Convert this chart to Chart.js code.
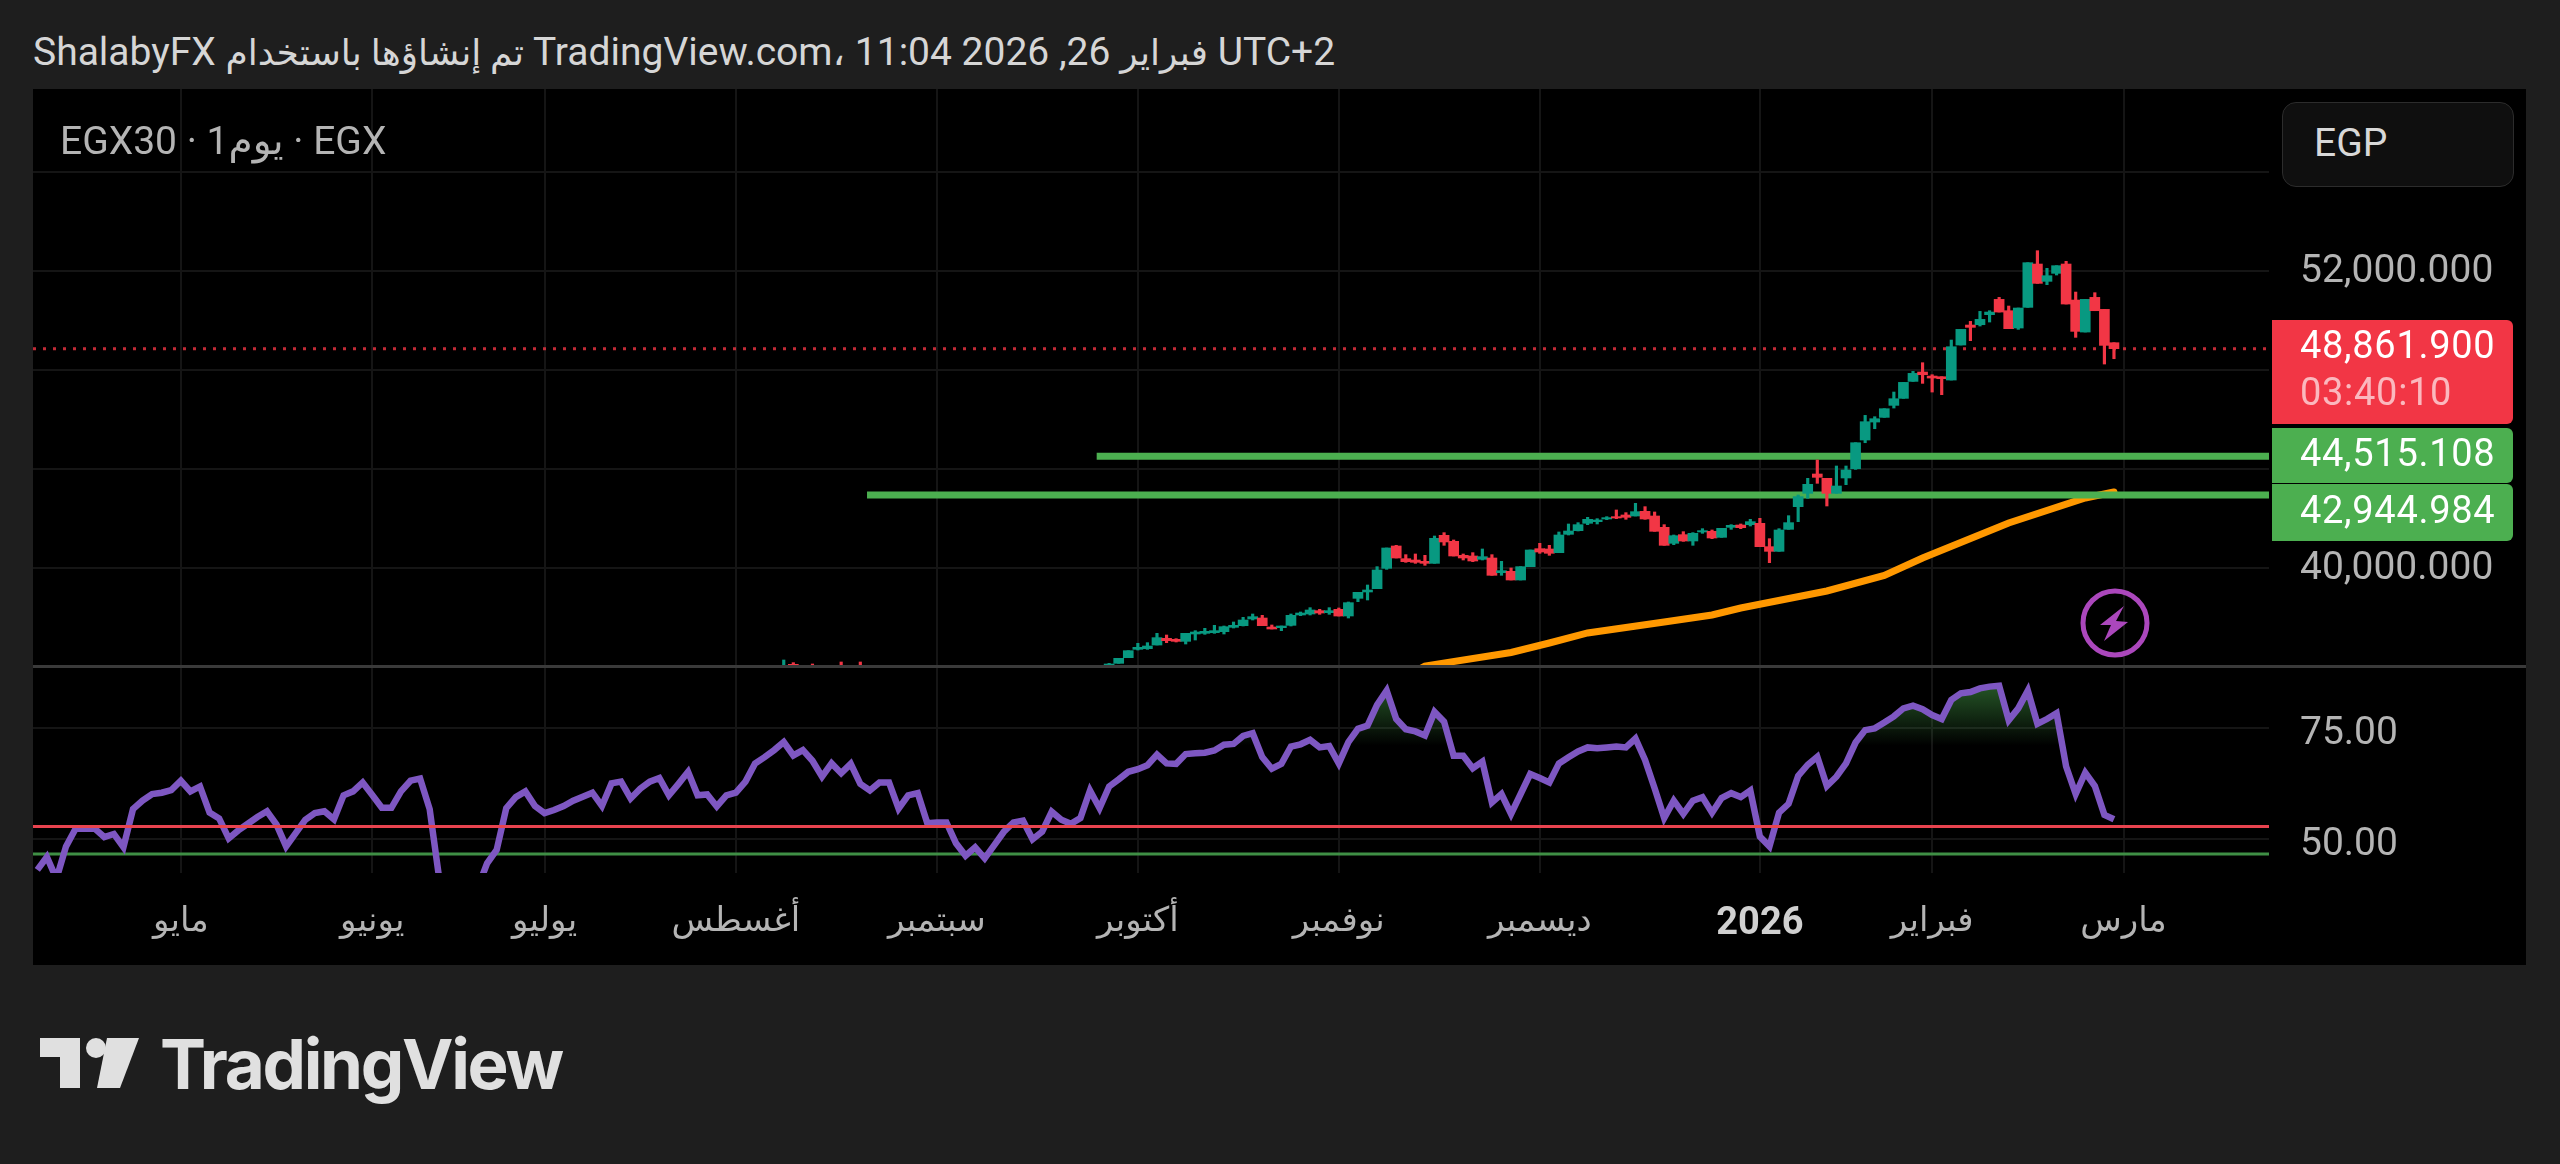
<!DOCTYPE html>
<html lang="ar">
<head>
<meta charset="utf-8">
<title>EGX30</title>
<script src="https://cdn.jsdelivr.net/npm/chart.js@4"></script>
<style>
    html, body { margin: 0; padding: 0; background: #1e1e1e; width: 2560px; height: 1164px; overflow: hidden; }
    body { position: relative; font-family: Roboto, "Noto Sans", "DejaVu Sans", sans-serif; }
    .abs { position: absolute; white-space: nowrap; }
    .piece { display: inline-block; unicode-bidi: isolate; white-space: pre; }
    .ar { font-size: 36px; }
    #frame { left: 33px; top: 89px; width: 2493px; height: 876px; background: #000; }
    #sep { left: 33px; top: 665px; width: 2493px; height: 3px; background: #3a3a3a; }
    canvas { position: absolute; left: 33px; }
    #header { left: 33px; top: 29px; font-size: 39px; line-height: 46px; color: #d6d6d6; }
    #legend { left: 60px; top: 118px; font-size: 39px; line-height: 46px; color: #b4b4b4; }
    #currency { left: 2282px; top: 102px; width: 230px; height: 83px; box-sizing: content-box; background: #0f0f0f;
                border: 1px solid #2c2c2c; border-radius: 14px; color: #d8d8d8; font-size: 39px; line-height: 80px; text-indent: 31px; }
    .tag { left: 2272px; width: 241px; color: #fff; font-size: 38px; line-height: 46px; letter-spacing: 0.7px; text-indent: 28px; border-radius: 0 6px 6px 0; }
    #logoText { left: 160px; top: 1019px; font-family: Inter, sans-serif; font-weight: 700; font-size: 69px; line-height: 90px; letter-spacing: -2.3px; color: #e0e0e0; }
</style>
</head>
<body>
<div class="abs" id="frame"></div>
<canvas id="priceChart" width="2493" height="577" style="top:89px;width:2493px;height:577px"></canvas>
<canvas id="rsiChart" width="2493" height="297" style="top:668px;width:2493px;height:297px"></canvas>
<div class="abs" id="sep"></div>

<div class="abs" id="header"><span class="piece">ShalabyFX </span><span class="piece ar" dir="rtl">تم إنشاؤها باستخدام</span><span class="piece"> TradingView.com، 11:04 2026 ,26 </span><span class="piece ar" dir="rtl">فبراير</span><span class="piece"> UTC+2</span></div>
<div class="abs" id="legend"><span class="piece">EGX30 · 1</span><span class="piece" dir="rtl">يوم</span><span class="piece"> · EGX</span></div>
<div class="abs" id="currency">EGP</div>
<div id="tags"></div>

<svg class="abs" style="left:0;top:0" width="2560" height="1164" pointer-events="none">
    <circle cx="2115" cy="623" r="32" fill="none" stroke="#ab47bc" stroke-width="5"/>
    <polygon points="2124,606 2100,625 2111,625 2104,641 2128,622 2116,621" fill="#ab47bc"/>
    <polygon points="40,1038 80,1038 80,1088 60,1088 60,1057 40,1057" fill="#e0e0e0"/>
    <circle cx="96" cy="1048" r="10" fill="#e0e0e0"/>
    <polygon points="107,1038 139,1038 120,1088 97,1088" fill="#e0e0e0"/>
</svg>
<div class="abs" id="logoText">TradingView</div>

<script>
// Time axis: one unit per daily bar
const monthBars = [15, 35, 53, 73, 94, 115, 136, 157, 180, 198, 218];
const monthLabels = ['مايو', 'يونيو', 'يوليو', 'أغسطس', 'سبتمبر', 'أكتوبر', 'نوفمبر', 'ديسمبر', '2026', 'فبراير', 'مارس'];
const boldMonth = '2026';

// Price pane ticks and levels
const priceGrid = [40000, 44000, 48000, 52000, 56000];
const priceLabelled = [40000, 52000];
const lastPrice = 48861.9;
const countdown = '03:40:10';
const upperLevel = 44515.108;
const lowerLevel = 42944.984;
const upperLevelStart = 110.7;
const lowerLevelStart = 86.7;

// Candles
const candleBars = [78, 79, 81, 84, 86,
    112, 113, 114, 115, 116, 117, 118, 119, 120, 121, 122, 123, 124, 125, 126, 127, 128, 129, 130, 131, 132, 133, 134, 135, 136, 137,
    138, 139, 140, 141, 142, 143, 144, 145, 146, 147, 148, 149, 150, 151, 152, 153, 154, 155, 156, 157, 158, 159, 160, 161, 162, 163,
    164, 165, 166, 167, 168, 169, 170, 171, 172, 173, 174, 175, 176, 177, 178, 179, 180, 181, 182, 183, 184, 185, 186, 187, 188, 189,
    190, 191, 192, 193, 194, 195, 196, 197, 198, 199, 200, 201, 202, 203, 204, 205, 206, 207, 208, 209, 210, 211, 212, 213, 214, 215, 216, 217];
const opens = [35900, 36108, 36000, 35950, 35960,
    36067, 36147, 36376, 36713, 36740, 36888, 37158, 37117, 37036, 37333, 37360, 37387, 37427, 37602, 37670, 37939, 37979, 37616, 37589, 37683, 38101, 38141, 38276, 38195, 38330, 38060,
    38774, 39030, 39165, 39986, 40889, 40377, 40323, 40269, 40188, 41320, 41078, 40512, 40485, 40350, 40404, 39811, 39865, 39515, 40054, 40781, 40768, 40620, 41360, 41509, 41805, 41872,
    41980, 42074, 42142, 42101, 42290, 42101, 41643, 40997, 41347, 41091, 41455, 41482, 41239, 41643, 41737, 41751, 41805, 40862, 40673, 41562, 42478, 43017, 43798, 43623, 43017, 43637,
    44011, 45170, 45897, 46086, 46571, 46854, 47540, 47918, 47756, 47729, 47594, 49009, 49817, 49830, 50235, 50854, 50396, 49696, 50531, 52282, 51582, 51905, 52282, 50827, 49534, 50935, 50450, 49103];
const highs = [36283, 36175, 36121, 36202, 36202,
    36148, 36350, 36659, 36956, 36983, 37360, 37292, 37144, 37360, 37468, 37562, 37683, 37656, 37818, 38006, 38141, 38087, 37697, 37656, 38141, 38222, 38397, 38330, 38397, 38384, 38626,
    39017, 39313, 40054, 40808, 40916, 40539, 40566, 40512, 41293, 41428, 41132, 40566, 40620, 40768, 40539, 40269, 40000, 40054, 40727, 40997, 40916, 41455, 41778, 41832, 42047, 41993,
    42074, 42344, 42236, 42613, 42478, 42263, 41751, 41333, 41468, 41428, 41589, 41536, 41603, 41751, 41778, 41966, 42007, 41185, 41589, 42114, 42950, 43623, 44364, 43623, 44121, 44121,
    45062, 46167, 46113, 46436, 47110, 47500, 47945, 48295, 47810, 47729, 49211, 49642, 49965, 50369, 50396, 50935, 50585, 50504, 52336, 52821, 52107, 52215, 52390, 51150, 50854, 51124, 50450, 49103];
const lows = [35800, 35900, 35800, 35780, 35800,
    36067, 36147, 36376, 36686, 36713, 36888, 36983, 37010, 36929, 37090, 37320, 37360, 37333, 37575, 37656, 37899, 37670, 37535, 37468, 37656, 38074, 38101, 38128, 38128, 38060, 37979,
    38640, 38707, 39165, 39946, 40404, 40229, 40188, 40108, 40188, 40916, 40485, 40323, 40256, 40323, 39704, 39704, 39515, 39515, 40054, 40593, 40512, 40620, 41333, 41495, 41751, 41778,
    41953, 41993, 41967, 42101, 41967, 41482, 40916, 40943, 41077, 40916, 41401, 41185, 41239, 41562, 41589, 41697, 40862, 40215, 40673, 41562, 41872, 42815, 43421, 42505, 43017, 43367,
    43984, 45062, 45628, 46086, 46463, 46854, 47540, 47460, 47109, 47002, 47594, 49009, 49184, 49777, 49938, 50342, 49669, 49642, 50531, 51501, 51447, 51838, 50666, 49319, 49534, 50396, 48241, 48456];
const closes = [36000, 35980, 35900, 35850, 35870,
    36121, 36350, 36659, 36794, 36848, 37185, 37063, 37036, 37360, 37414, 37441, 37468, 37629, 37683, 37899, 38033, 37670, 37535, 37656, 38087, 38181, 38303, 38181, 38276, 38060, 38599,
    39017, 39111, 39919, 40808, 40404, 40256, 40229, 40188, 41199, 41051, 40485, 40404, 40283, 40458, 39704, 39892, 39515, 40054, 40727, 40646, 40593, 41333, 41495, 41751, 41967, 41940,
    42034, 42020, 42047, 42276, 41980, 41482, 40916, 41306, 41091, 41401, 41509, 41212, 41603, 41724, 41630, 41872, 40862, 40673, 41535, 41832, 42882, 43381, 43663, 43017, 43313, 43960,
    45062, 45911, 46032, 46436, 46840, 47500, 47864, 47810, 47675, 47648, 48941, 49642, 49723, 50046, 50342, 50342, 49669, 50504, 52336, 51501, 51810, 52215, 50666, 49561, 50854, 50396, 48995, 48861.9];

// Orange moving average, at the bars where its bends could be read
const emaBars = [143, 145, 154, 158, 162, 170, 175, 178, 187, 193, 197, 206, 214, 217];
const emaValues = [35600, 36040, 36586, 36970, 37374, 37818, 38101, 38384, 39071, 39697, 40404, 41818, 42828, 43070];

// RSI, one value per bar from the left edge
const rsiValues = [
    43.0, 45.9, 41.0, 48.3, 52.3, 52.3, 52.3, 50.4, 51.1, 48.1, 56.7, 58.6, 60.1, 60.4, 61.0, 63.1, 60.7, 61.8, 55.9, 54.6,
    50.1, 51.9, 53.4, 54.9, 56.2, 53.2, 48.3, 51.3, 54.3, 55.8, 56.2, 54.4, 59.8, 60.7, 62.7, 59.9, 57.0, 57.0, 60.7, 63.1,
    63.6, 56.7, 41.0, 38.0, 36.5, 37.0, 38.8, 44.5, 47.5, 56.9, 59.4, 60.7, 57.4, 55.8, 56.5, 57.4, 58.6, 59.5, 60.4, 57.4,
    62.5, 62.9, 59.1, 61.3, 62.9, 63.7, 59.8, 62.4, 65.1, 59.8, 60.0, 57.3, 59.8, 60.4, 62.9, 67.0, 68.4, 70.0, 71.8, 68.8,
    70.0, 67.6, 64.0, 67.0, 64.8, 66.9, 62.4, 60.9, 62.7, 62.7, 56.8, 59.8, 60.3, 53.5, 53.7, 53.7, 49.0, 46.2, 48.1, 45.6,
    48.6, 51.6, 53.7, 54.1, 49.9, 51.6, 56.1, 54.3, 53.4, 54.7, 60.9, 56.9, 61.8, 63.4, 65.1, 65.7, 66.6, 69.0, 67.0, 66.9,
    69.1, 69.3, 69.4, 69.9, 71.2, 71.4, 73.2, 73.8, 68.4, 65.8, 66.9, 70.8, 71.3, 72.3, 70.6, 70.9, 67.0, 71.8, 74.8, 75.5,
    80.2, 83.4, 77.0, 74.7, 74.2, 73.3, 78.6, 76.4, 68.7, 68.7, 65.9, 67.4, 58.2, 60.1, 55.6, 60.1, 64.6, 63.7, 62.7, 67.0,
    68.4, 69.7, 70.6, 70.4, 70.6, 70.8, 70.6, 72.6, 67.8, 61.4, 54.7, 58.6, 55.6, 58.6, 59.4, 55.9, 59.2, 60.3, 59.4, 60.9,
    50.5, 48.3, 55.9, 57.9, 64.2, 66.7, 68.5, 61.9, 64.0, 67.0, 71.7, 74.5, 74.9, 76.2, 77.6, 79.4, 80.0, 79.2, 77.9, 77.0,
    81.3, 82.8, 83.1, 83.9, 84.3, 84.5, 76.7, 79.4, 83.4, 75.9, 77.0, 78.3, 66.3, 60.1, 64.9, 61.9, 55.4, 54.4
];
const rsiGrid = [50, 75];
const rsiUpper = 52.8;
const rsiLower = 46.6;
const rsiFillBase = 70;

// Visible ranges of the panes
const xMin = -0.45, xMax = 233.2;
const priceMin = 36040, priceMax = 59354;
const rsiMin = 42.3, rsiMax = 88.5;

const upColor = '#089981';
const downColor = '#f23645';
const levelColor = '#4caf50';
const gridColor = '#151515';
const labelColor = '#b4b4b4';
const fontFamily = 'Roboto, "Noto Sans", "DejaVu Sans", sans-serif';

const priceFormat = v => v.toLocaleString('en-US', { minimumFractionDigits: 3, maximumFractionDigits: 3 });

// Shared x axis, month lines come from monthBars
function timeAxis(showLabels) {
    return {
        type: 'linear',
        min: xMin,
        max: xMax,
        offset: false,
        border: { display: false },
        grid: { color: gridColor, lineWidth: 2, offset: false, drawTicks: false },
        afterBuildTicks: axis => { axis.ticks = monthBars.map(v => ({ value: v })); },
        afterFit: axis => {
            axis.height = showLabels ? 92 : 0;
            axis.paddingLeft = 0;
            axis.paddingRight = 0;
        },
        ticks: {
            display: showLabels,
            autoSkip: false,
            maxRotation: 0,
            padding: 29,
            color: ctx => monthLabels[ctx.index] === boldMonth ? '#d0d0d0' : labelColor,
            font: ctx => ({ family: fontFamily, size: monthLabels[ctx.index] === boldMonth ? 38 : 34, weight: monthLabels[ctx.index] === boldMonth ? 'bold' : 'normal' }),
            callback: (v, i) => monthLabels[i]
        }
    };
}

function valueAxis(min, max, values, labelOffset, callback) {
    return {
        type: 'linear',
        position: 'right',
        min: min,
        max: max,
        border: { display: false },
        grid: { color: gridColor, lineWidth: 2, drawTicks: false },
        afterBuildTicks: axis => { axis.ticks = values.map(v => ({ value: v })); },
        afterFit: axis => {
            axis.width = 257;
            axis.paddingTop = 0;
            axis.paddingBottom = 0;
        },
        ticks: {
            color: labelColor,
            padding: 31,
            labelOffset: labelOffset,
            font: { family: fontFamily, size: 39 },
            callback: callback
        }
    };
}

function levelLine(value, start, color, width, order, dash) {
    return {
        type: 'line',
        data: [{ x: start, y: value }, { x: xMax, y: value }],
        borderColor: color,
        borderWidth: width,
        borderDash: dash || [],
        pointRadius: 0,
        order: order
    };
}

const commonOptions = {
    responsive: false,
    animation: false,
    events: [],
    layout: { padding: 0 },
    plugins: { legend: { display: false }, tooltip: { enabled: false } }
};

// Wykres cen
const candleColors = candleBars.map((b, i) => closes[i] >= opens[i] ? upColor : downColor);
new Chart(document.getElementById('priceChart'), {
    type: 'bar',
    data: {
        datasets: [
            {
                data: candleBars.map((b, i) => ({ x: b, y: [opens[i], closes[i]] })),
                backgroundColor: candleColors,
                barThickness: 10,
                grouped: false,
                order: 0
            },
            {
                data: candleBars.map((b, i) => ({ x: b, y: [lows[i], highs[i]] })),
                backgroundColor: candleColors,
                barThickness: 2.5,
                grouped: false,
                order: 1
            },
            levelLine(upperLevel, upperLevelStart, levelColor, 7, 2),
            levelLine(lowerLevel, lowerLevelStart, levelColor, 7, 2),
            {
                type: 'line',
                data: emaBars.map((b, i) => ({ x: b, y: emaValues[i] })),
                borderColor: '#ff9800',
                borderWidth: 7,
                borderCapStyle: 'round',
                pointRadius: 0,
                tension: 0,
                order: 3
            },
            levelLine(lastPrice, xMin, 'rgba(242,54,69,0.8)', 3, 4, [3, 7])
        ]
    },
    options: {
        ...commonOptions,
        scales: {
            x: timeAxis(false),
            y: valueAxis(priceMin, priceMax, priceGrid, 1, v => priceLabelled.includes(v) ? priceFormat(v) : '')
        }
    }
});

// Wykres RSI
const rsiCanvas = document.getElementById('rsiChart');
const rsiPaneHeight = 205;
const rsiPixel = v => (rsiMax - v) / (rsiMax - rsiMin) * rsiPaneHeight;
const rsiGradient = rsiCanvas.getContext('2d').createLinearGradient(0, rsiPixel(85), 0, rsiPixel(rsiFillBase + 1));
rsiGradient.addColorStop(0, 'rgba(76,175,80,0.5)');
rsiGradient.addColorStop(1, 'rgba(76,175,80,0)');

new Chart(rsiCanvas, {
    type: 'line',
    data: {
        datasets: [
            levelLine(rsiUpper, xMin, '#e8434f', 3, 0),
            {
                data: rsiValues.map((v, i) => ({ x: i, y: v })),
                borderColor: '#7e57c2',
                borderWidth: 6.5,
                pointRadius: 0,
                tension: 0,
                clip: 0,
                fill: { target: { value: rsiFillBase }, above: rsiGradient, below: 'rgba(0,0,0,0)' },
                order: 1
            },
            levelLine(rsiLower, xMin, '#3f8f45', 3, 2)
        ]
    },
    options: {
        ...commonOptions,
        scales: {
            x: timeAxis(true),
            y: valueAxis(rsiMin, rsiMax, rsiGrid, 6, v => v.toFixed(2))
        }
    }
});

// Etykiety cen po prawej stronie
const tagBoxes = [
    { top: 320, height: 104, color: downColor, lines: [priceFormat(lastPrice), countdown], tops: [2, 49] },
    { top: 428, height: 55, color: levelColor, lines: [priceFormat(upperLevel)], tops: [2] },
    { top: 484, height: 57, color: levelColor, lines: [priceFormat(lowerLevel)], tops: [3] }
];
tagBoxes.forEach(function (box) {
    const el = document.createElement('div');
    el.className = 'abs tag';
    el.style.top = box.top + 'px';
    el.style.height = box.height + 'px';
    el.style.background = box.color;
    box.lines.forEach(function (text, i) {
        const line = document.createElement('div');
        line.className = 'abs';
        line.style.top = box.tops[i] + 'px';
        line.style.left = '0';
        if (i === 1) line.style.color = 'rgba(255,255,255,0.65)';
        line.textContent = text;
        el.appendChild(line);
    });
    document.getElementById('tags').appendChild(el);
});
</script>
</body>
</html>
